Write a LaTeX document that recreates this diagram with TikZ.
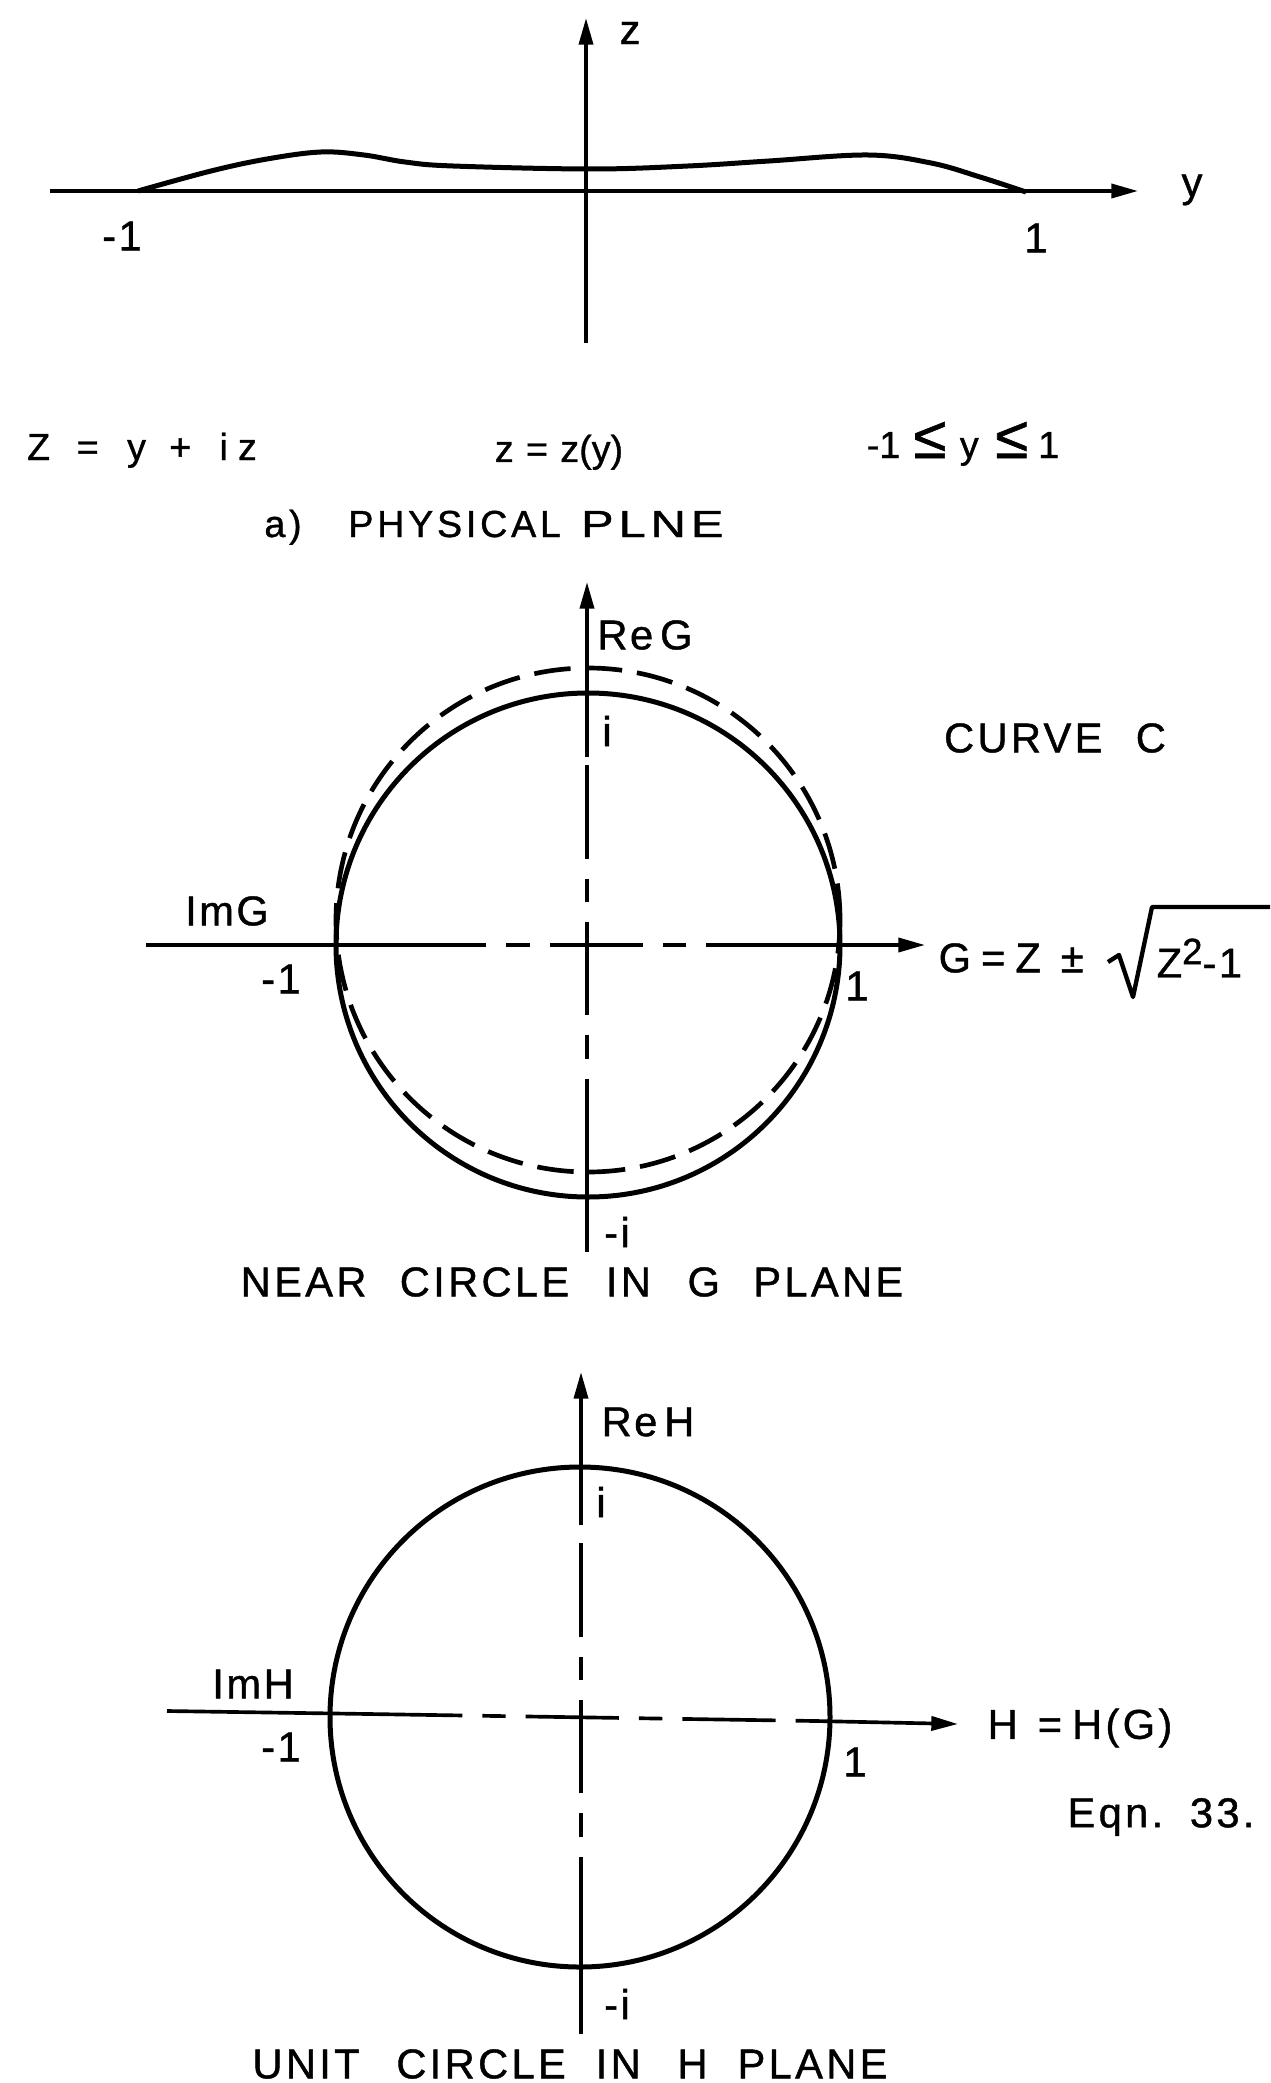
\documentclass[tikz,border=0pt]{standalone}
\usepackage{fontspec}
\setmainfont{Liberation Sans}
\newfontfamily\lett[FakeBold=1.0]{Liberation Sans}
\usetikzlibrary{arrows.meta}
\begin{document}
\begin{tikzpicture}[x=0.3pt,y=-0.3pt,
  axis/.style={line width=1.1pt},
  arr/.style={-{Triangle[length=8pt,width=4.2pt]}},
  curvepen/.style={line width=1.5pt},
  dashaxis/.style={line width=1.1pt, dash pattern=on 28pt off 6pt on 7pt off 6pt},
  dcircle/.style={line width=1.4pt, dash pattern=on 11pt off 4.5pt},
  lab/.style={inner sep=0pt, font=\lett\fontsize{12.5}{15}\selectfont\addfontfeature{LetterSpace=6}},
  big/.style={inner sep=0pt, font=\lett\fontsize{12.5}{15}\selectfont\addfontfeature{LetterSpace=8}},
  mid/.style={inner sep=0pt, anchor=base, font=\lett\fontsize{11.3}{13}\selectfont},
  midsp/.style={mid, font=\lett\fontsize{11.3}{13}\selectfont\addfontfeature{LetterSpace=10}},
]
\useasboundingbox (0,0) rectangle (1270,2083);

% ---------- a) physical plane ----------
\coordinate (zb) at (586,343);
\coordinate (zt) at (586,18);
\coordinate (yl) at (50,191);
\coordinate (yr) at (1138,191);
\draw[axis,arr] (zb) -- (zt);
\draw[axis,arr] (yl) -- (yr);
\draw[curvepen,line join=round] plot[smooth,tension=0.6] coordinates {
  (138,191) (211,171) (267,159) (321,152) (364,155) (405,162) (453,166)
  (591,169) (688,166) (769,161) (868,155) (931,163) (980,177) (1026,192)};
\node[lab] (lz) at (630,33) {z};
\node[lab] (ly) at (1192,190) {y};
\node[lab] (lm1a) at (122,236) {-1};
\node[lab] (l1a) at (1036,238) {1};

\node[mid] (eq1) at (142,460) {Z\hspace{8pt}=\hspace{8.5pt}y\hspace{7pt}+\hspace{8.5pt}i\hspace{3pt}z};
\node[mid] (eq2) at (559,462) {z\hspace{3.7pt}=\hspace{3.7pt}z(y)};
\node[mid] (eq3) at (963,458) {-1\hspace{4pt}{\fontsize{18}{18}\selectfont ≤}\hspace{4pt}y\hspace{5pt}{\fontsize{18}{18}\selectfont ≤}\hspace{3pt}1};
\node[midsp] (capa) at (494,537) {a)\hspace{14pt}PHYSICAL\hspace{6pt}\scalebox{1.3}[1]{PLNE}};

% ---------- G plane ----------
\coordinate (Gc) at (588,945);
\coordinate (Gvb) at (587,1252);
\coordinate (Gvcb) at (587,1172);
\coordinate (Gvct) at (587,757);
\coordinate (Gvt) at (587,582);
\coordinate (Ghl) at (146,945);
\coordinate (Ghcl) at (393,945);
\coordinate (Ghcr) at (800,945);
\coordinate (Ghr) at (925,945);
\draw[axis] (Gvb) -- (Gvcb);
\draw[dashaxis] (Gvcb) -- (Gvct);
\draw[axis,arr] (Gvct) -- (Gvt);
\draw[axis] (Ghl) -- (Ghcl);
\draw[dashaxis] (Ghcl) -- (Ghcr);
\draw[axis,arr] (Ghcr) -- (Ghr);
\draw[curvepen] (Gc) circle[radius=75.6pt];
\draw[dcircle] ([yshift=7.5pt]Gc) circle[radius=75.6pt];

\node[lab] (ReG) at (645,635) {Re\,G};
\node[lab] (Gi) at (607,731) {i};
\node[lab] (ImG) at (227,911) {ImG};
\node[lab] (Gm1) at (281,979) {-1};
\node[lab] (Gp1) at (857,986) {1};
\node[lab] (Gmi) at (617,1232) {-i};
\node[big] (curveC) at (1055,738) {CURVE\hspace{10pt}C};
\node[lab,anchor=west] (Gfor) at (938,958) {G\hspace{3pt}=\hspace{3pt}Z\hspace{6pt}±};
\node[lab,anchor=west] (rad) at (1156,958) {Z\raisebox{4pt}{\fontsize{11}{11}\selectfont 2}-1};
\coordinate (r0) at (1108,962);
\coordinate (r1) at (1119,955);
\coordinate (r2) at (1133,997);
\coordinate (r3) at (1152,907);
\coordinate (r4) at (1270,907);
\draw[line width=1.3pt,line join=round] (r0) -- (r1) -- (r2) -- (r3) -- (r4);
\node[big] (capG) at (572,1282) {NEAR\hspace{10pt}CIRCLE\hspace{11pt}IN\hspace{11pt}G\hspace{10pt}PLANE};

% ---------- H plane ----------
\coordinate (Hc) at (580,1717);
\coordinate (Hvb) at (581,2034);
\coordinate (Hvcb) at (581,1950);
\coordinate (Hvct) at (581,1525);
\coordinate (Hvt) at (581,1372);
\coordinate (Hhl) at (167,1711);
\coordinate (Hhcl) at (369,1714);
\coordinate (Hhcr) at (816,1721);
\coordinate (Hhr) at (958,1724);
\draw[axis] (Hvb) -- (Hvcb);
\draw[dashaxis] (Hvcb) -- (Hvct);
\draw[axis,arr] (Hvct) -- (Hvt);
\draw[axis] (Hhl) -- (Hhcl);
\draw[dashaxis] (Hhcl) -- (Hhcr);
\draw[axis,arr] (Hhcr) -- (Hhr);
\draw[curvepen] (Hc) circle[radius=75pt];

\node[lab] (ReH) at (648,1422) {Re\,H};
\node[lab] (Hi) at (601,1502) {i};
\node[lab] (ImH) at (253,1684) {ImH};
\node[lab] (Hm1) at (281,1747) {-1};
\node[lab] (Hp1) at (855,1762) {1};
\node[lab] (Hmi) at (617,2004) {-i};
\node[big] (HH) at (1080,1728) {H\hspace{6pt}=\hspace{3pt}H(G)};
\node[big] (eqn) at (1161,1817) {Eqn.\hspace{8pt}33.};
\node[big] (capH) at (570,2064) {UNIT\hspace{11pt}CIRCLE\hspace{9pt}IN\hspace{11pt}H\hspace{9pt}PLANE};
\end{tikzpicture}
\end{document}
